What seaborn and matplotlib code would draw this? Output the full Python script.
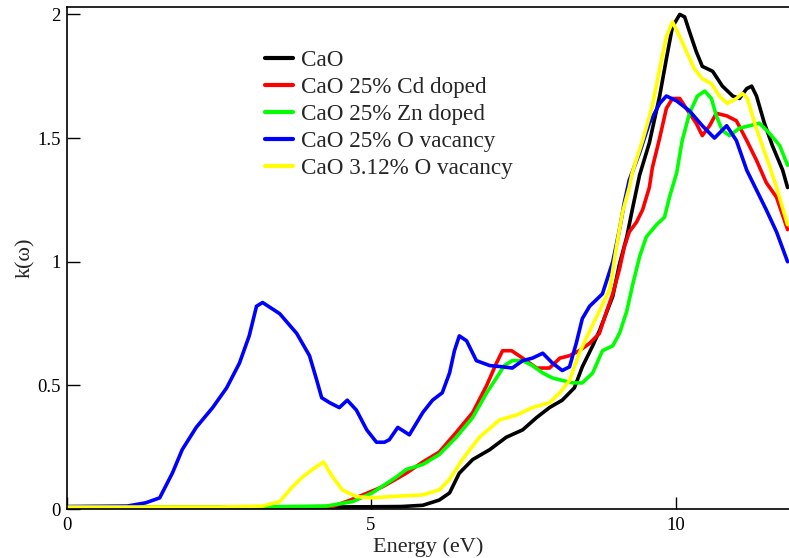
import numpy as np
import pandas as pd
import matplotlib
matplotlib.use("Agg")
import matplotlib.pyplot as plt
import seaborn as sns
from matplotlib.ticker import FuncFormatter

labels = ["CaO", "CaO 25% Cd doped", "CaO 25% Zn doped",
          "CaO 25% O vacancy", "CaO 3.12% O vacancy"]
colors = ["#000000", "#ff0000", "#00ff00", "#0000ff", "#ffff00"]

e_cao = [0, 2, 4, 5.0, 5.5, 5.85, 6.12, 6.29, 6.45, 6.67, 6.95, 7.22, 7.49, 7.72, 7.93,
         8.14, 8.34, 8.47, 8.64, 8.75, 8.97, 9.08, 9.20, 9.29, 9.41, 9.57, 9.74, 9.85,
         9.95, 10.07, 10.15, 10.23, 10.34, 10.44, 10.61, 10.77, 10.94, 11.05, 11.17,
         11.25, 11.33, 11.46, 11.59, 11.76, 11.84]
k_cao = [0.008, 0.008, 0.008, 0.009, 0.01, 0.015, 0.036, 0.065, 0.145, 0.20, 0.24, 0.29,
         0.32, 0.37, 0.41, 0.44, 0.49, 0.575, 0.66, 0.72, 0.86, 0.99, 1.10, 1.21, 1.35,
         1.48, 1.67, 1.82, 1.95, 2.0, 1.99, 1.93, 1.85, 1.79, 1.77, 1.71, 1.67, 1.66,
         1.70, 1.71, 1.67, 1.56, 1.47, 1.37, 1.30]

e_cd = [0, 3.5, 4.37, 4.65, 5.19, 5.44, 5.58, 5.85, 6.12, 6.40, 6.67, 6.90, 7.06, 7.16,
        7.31, 7.49, 7.72, 7.93, 8.10, 8.26, 8.42, 8.59, 8.75, 8.87, 8.97, 9.08, 9.16,
        9.24, 9.36, 9.46, 9.57, 9.62, 9.74, 9.85, 9.95, 10.07, 10.23, 10.34, 10.44,
        10.56, 10.67, 10.84, 11.00, 11.17, 11.33, 11.49, 11.66, 11.84]
k_cd = [0.008, 0.008, 0.01, 0.035, 0.09, 0.125, 0.145, 0.19, 0.23, 0.31, 0.39, 0.50,
        0.59, 0.64, 0.64, 0.61, 0.57, 0.57, 0.61, 0.62, 0.64, 0.67, 0.71, 0.80, 0.87,
        0.97, 1.06, 1.12, 1.16, 1.21, 1.30, 1.38, 1.50, 1.62, 1.66, 1.66, 1.60, 1.56,
        1.51, 1.55, 1.60, 1.59, 1.57, 1.49, 1.41, 1.32, 1.26, 1.13]

e_zn = [0, 3.0, 4.27, 4.70, 5.02, 5.42, 5.58, 5.85, 6.12, 6.40, 6.67, 6.90, 7.06, 7.19,
        7.32, 7.49, 7.65, 7.82, 7.98, 8.14, 8.31, 8.47, 8.64, 8.80, 8.97, 9.08, 9.20,
        9.29, 9.41, 9.52, 9.69, 9.82, 9.90, 10.02, 10.11, 10.23, 10.36, 10.48, 10.59,
        10.67, 10.77, 10.89, 11.05, 11.22, 11.38, 11.54, 11.71, 11.84]
k_zn = [0.008, 0.008, 0.012, 0.03, 0.065, 0.13, 0.16, 0.18, 0.22, 0.29, 0.37, 0.47,
        0.53, 0.58, 0.60, 0.60, 0.58, 0.55, 0.53, 0.52, 0.51, 0.51, 0.55, 0.64, 0.66,
        0.71, 0.80, 0.90, 1.02, 1.10, 1.15, 1.18, 1.26, 1.36, 1.49, 1.60, 1.67, 1.69,
        1.66, 1.59, 1.53, 1.51, 1.54, 1.55, 1.56, 1.52, 1.47, 1.39]

e_ov25 = [0, 1.0, 1.3, 1.53, 1.74, 1.90, 2.13, 2.40, 2.63, 2.84, 3.00, 3.12, 3.22, 3.50,
          3.78, 3.99, 4.11, 4.19, 4.32, 4.48, 4.61, 4.76, 4.93, 5.09, 5.22, 5.30, 5.44,
          5.63, 5.85, 6.01, 6.17, 6.29, 6.37, 6.45, 6.57, 6.73, 6.95, 7.16, 7.32, 7.49,
          7.65, 7.82, 7.98, 8.14, 8.26, 8.37, 8.47, 8.59, 8.80, 8.97, 9.08, 9.16, 9.24,
          9.41, 9.57, 9.74, 9.85, 10.02, 10.23, 10.44, 10.64, 10.84, 11.00, 11.17,
          11.33, 11.49, 11.66, 11.84]
k_ov25 = [0.01, 0.012, 0.025, 0.045, 0.146, 0.24, 0.33, 0.41, 0.49, 0.59, 0.70, 0.82,
          0.835, 0.79, 0.71, 0.62, 0.52, 0.45, 0.43, 0.41, 0.44, 0.40, 0.32, 0.27,
          0.27, 0.28, 0.33, 0.30, 0.39, 0.44, 0.47, 0.55, 0.64, 0.70, 0.68, 0.60, 0.58,
          0.575, 0.57, 0.60, 0.61, 0.63, 0.59, 0.56, 0.575, 0.67, 0.77, 0.82, 0.87, 1.0,
          1.13, 1.24, 1.33, 1.44, 1.56, 1.64, 1.67, 1.65, 1.61, 1.55, 1.50, 1.55, 1.49,
          1.37, 1.29, 1.21, 1.12, 1.0]

e_ov3 = [0, 2.5, 3.22, 3.50, 3.71, 3.88, 4.04, 4.22, 4.37, 4.53, 4.76, 5.02, 5.30, 5.85,
         6.12, 6.29, 6.50, 6.78, 7.11, 7.39, 7.65, 7.93, 8.10, 8.26, 8.42, 8.59, 8.75,
         8.92, 9.03, 9.13, 9.24, 9.29, 9.46, 9.62, 9.74, 9.85, 9.95, 10.07, 10.18,
         10.31, 10.44, 10.59, 10.72, 10.85, 11.00, 11.10, 11.18, 11.30, 11.41, 11.54,
         11.66, 11.84]
k_ov3 = [0.008, 0.008, 0.012, 0.03, 0.09, 0.13, 0.16, 0.19, 0.13, 0.077, 0.05, 0.045,
         0.05, 0.057, 0.077, 0.12, 0.20, 0.29, 0.36, 0.38, 0.41, 0.43, 0.47, 0.52, 0.63,
         0.72, 0.80, 0.89, 1.06, 1.20, 1.30, 1.36, 1.49, 1.63, 1.78, 1.91, 1.97, 1.91,
         1.85, 1.78, 1.74, 1.72, 1.67, 1.64, 1.66, 1.68, 1.66, 1.56, 1.48, 1.39, 1.30,
         1.15]

x_ticks = [0, 5, 10]
y_ticks = [0, 0.5, 1, 1.5, 2]

series = [(e_cao, k_cao), (e_cd, k_cd), (e_zn, k_zn), (e_ov25, k_ov25), (e_ov3, k_ov3)]
frames = []
for lab, (e, k) in zip(labels, series):
    frames.append(pd.DataFrame({"Energy": e, "k": k, "series": lab}))
df = pd.concat(frames, ignore_index=True)

sns.set_style("ticks")
plt.rcParams["font.family"] = ["Liberation Serif", "DejaVu Serif"]

fig = plt.figure(figsize=(7.89, 5.58), dpi=100)
ax = fig.add_axes([66.5 / 789, 49 / 558, (789 - 66.5) / 789, (509 - 7) / 558])

sns.lineplot(data=df, x="Energy", y="k", hue="series", hue_order=labels,
             palette=dict(zip(labels, colors)), estimator=None, sort=False,
             linewidth=2.6, ax=ax, legend=True)

ax.set_xlim(0, (789 - 66.5) / 60.9)
ax.set_ylim(0, 2.03)
ax.set_xticks(x_ticks)
ax.set_yticks(y_ticks)
fmt = FuncFormatter(lambda v, p: f"{v:g}")
ax.xaxis.set_major_formatter(fmt)
ax.yaxis.set_major_formatter(fmt)
ax.tick_params(direction="in", length=9, width=1, labelsize=13.5, colors="black")
ax.tick_params(axis="x", pad=6)
ax.tick_params(axis="y", pad=4)
for s in ["left", "top", "bottom"]:
    ax.spines[s].set_visible(True)
    ax.spines[s].set_linewidth(1.2)
    ax.spines[s].set_color("black")
ax.spines["right"].set_visible(False)
ax.set_xlabel("Energy (eV)", fontsize=16, labelpad=2)
ax.set_ylabel("k(ω)", fontsize=16, labelpad=2)

leg = ax.legend(loc="upper left", bbox_to_anchor=(0.262, 0.934), frameon=False,
                fontsize=16.7, handlelength=1.2, handletextpad=0.35, labelspacing=0.25,
                borderaxespad=0)
for h in leg.legend_handles:
    h.set_linewidth(3)

fig.savefig("out.png", dpi=100)
